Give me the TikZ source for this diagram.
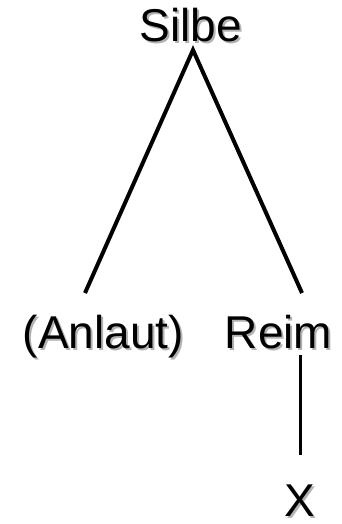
\documentclass[tikz,border=0pt]{standalone}
\usepackage{fontspec}
\setmainfont{Liberation Sans}
\usepackage{tikz}
\usetikzlibrary{positioning}

\tikzset{
  word/.style={font=\fontsize{46}{46}\selectfont, anchor=base, inner sep=0pt},
  wordshadow/.style={word, text=black!30},
  branch/.style={line width=4pt},
  stem/.style={line width=3pt}
}

\begin{document}
\begin{tikzpicture}[x=1pt,y=-1pt]
  \useasboundingbox (0,0) rectangle (341,524);

  % shadows first
  \node[wordshadow] at (193,44) {Silbe};
  \node[wordshadow] at (105.5,350) {(Anlaut)};
  \node[wordshadow] at (280.5,350) {Reim};
  \node[wordshadow] at (302,518) {X};

  % words
  \node[word] (silbe) at (191,42) {Silbe};
  \node[word] (anlaut) at (103.5,348) {(Anlaut)};
  \node[word] (reim) at (278.5,348) {Reim};
  \node[word] (x) at (300,516) {X};

  % line ends
  \coordinate (apex) at (193,50);
  \coordinate (anlauttop) at (85,293);
  \coordinate (reimtop) at (302,293);
  \coordinate (reimfoot) at (300,355);
  \coordinate (xtop) at (300,455);

  \draw[branch] (anlauttop) -- (apex) -- (reimtop);
  \draw[stem] (reimfoot) -- (xtop);
\end{tikzpicture}
\end{document}
